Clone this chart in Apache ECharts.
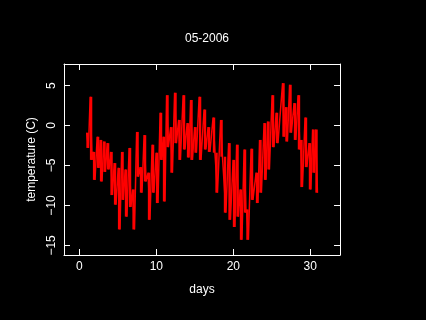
<!DOCTYPE html>
<html>
<head>
<meta charset="utf-8">
<script src="https://cdn.jsdelivr.net/npm/echarts@6/dist/echarts.min.js"></script>
<style>
  html, body { margin: 0; padding: 0; background: #000; }
  #chart { width: 426px; height: 320px; }
</style>
</head>
<body>
<div id="chart"></div>
<script>
// each streak = one daily warm/cool swing
var days = [1.06, 1.52, 1.91, 2.43, 2.82, 3.27, 3.73, 4.18, 4.64, 5.16,
            5.61, 6.06, 6.58, 7.04, 7.56, 8.01, 8.53, 9.05, 9.57, 10.09,
            10.61, 11.0, 11.45, 11.97, 12.49, 13.01, 13.6, 14.12, 14.57, 15.09,
            15.68, 16.32, 16.84, 17.49, 17.82, 18.47, 18.92, 19.51, 20.09, 20.55,
            21.0, 21.52, 21.84, 22.43, 23.08, 23.53, 24.12, 24.57, 25.16, 25.68,
            26.52, 26.91, 27.43, 28.01, 28.53, 28.86, 29.44, 29.96, 30.42, 30.81];
var tempHigh = [-0.9, 3.6, -3.3, -1.4, -1.8, -2.0, -2.2, -3.3, -4.7, -5.3,
                -3.3, -5.5, -2.8, -8.0, -0.8, -5.2, -1.2, -5.9, -2.4, -3.4,
                1.6, -1.4, 3.8, -0.2, 4.1, 0.7, 3.8, 0.3, 3.2, -0.2,
                3.6, 2.0, -0.2, 1.0, -3.4, 0.7, -3.9, -2.2, -4.3, -2.4,
                -8.0, -3.0, -10.5, -2.9, -5.9, -1.8, 0.3, 0.5, 3.8, 1.6,
                5.3, 2.3, 5.1, 2.8, 3.8, -1.8, 1.0, -2.2, -0.5, -0.5];
var tempLow = [-2.8, -4.3, -6.8, -5.3, -7.0, -5.8, -5.5, -8.7, -9.9, -13.0,
               -9.3, -11.4, -10.2, -13.0, -6.4, -8.4, -7.0, -11.8, -8.4, -9.7,
               -4.3, -9.5, -2.7, -5.9, -2.2, -4.3, -3.0, -4.0, -4.3, -3.4,
               -4.3, -3.0, -3.3, -3.4, -8.4, -3.9, -10.9, -11.8, -12.7, -11.4,
               -14.3, -10.9, -14.3, -9.3, -9.7, -8.4, -6.8, -5.5, -2.7, -2.2,
               -1.4, -2.0, -0.9, -1.8, -3.0, -7.7, -5.2, -8.0, -5.9, -8.4];
var xTicks = [0, 10, 20, 30];
var yTicks = [-15, -10, -5, 0, 5];

var rows = [];
var trace = [];
for (var i = 0; i < days.length; i++) {
  rows.push([days[i], tempHigh[i], tempLow[i]]);
  // warm peak then the cool trough of the same swing
  trace.push([days[i] - 0.12, tempHigh[i]]);
  trace.push([days[i] + 0.12, tempLow[i]]);
}

var font = { color: '#fff', fontFamily: 'Liberation Sans', fontSize: 12 };
var line = { show: true, onZero: false, lineStyle: { color: '#fff', width: 1 } };
var tick = function (vals) {
  return { show: true, inside: true, length: 6, customValues: vals, lineStyle: { color: '#fff', width: 1 } };
};
var minus = function (v) { return String(v).replace('-', '\u2212'); };

var myChart = echarts.init(document.getElementById('chart'));
myChart.setOption({
  backgroundColor: '#000',
  animation: false,
  title: {
    text: '05-2006', left: 202, top: 28, textAlign: 'center',
    textStyle: { color: '#fff', fontFamily: 'Liberation Sans', fontSize: 12, fontWeight: 'normal' }
  },
  grid: { left: 64, right: 86, top: 64, bottom: 65 },
  xAxis: [{
    type: 'value', min: -2, max: 33.86, position: 'bottom',
    name: 'days', nameLocation: 'middle', nameGap: 29, nameTextStyle: font,
    axisLine: line, axisTick: tick(xTicks), splitLine: { show: false },
    axisLabel: Object.assign({ margin: 6, customValues: xTicks }, font)
  }, {
    type: 'value', min: -2, max: 33.86, position: 'top',
    axisLine: line, axisTick: tick(xTicks), splitLine: { show: false },
    axisLabel: { show: false }
  }],
  yAxis: [{
    type: 'value', min: -16.2, max: 7.7, position: 'left',
    name: 'temperature (C)', nameLocation: 'middle', nameGap: 25, nameRotate: 90, nameTextStyle: font,
    axisLine: line, axisTick: tick(yTicks), splitLine: { show: false },
    axisLabel: Object.assign({ margin: 6, rotate: 90, customValues: yTicks, formatter: minus }, font)
  }, {
    type: 'value', min: -16.2, max: 7.7, position: 'right',
    axisLine: line, axisTick: tick(yTicks), splitLine: { show: false },
    axisLabel: { show: false }
  }],
  series: [{
    type: 'custom',
    data: rows,
    encode: { x: 0, y: [1, 2] },
    renderItem: function (params, api) {
      var top = api.coord([api.value(0), api.value(1)]);
      var bot = api.coord([api.value(0), api.value(2)]);
      return {
        type: 'rect',
        shape: { x: top[0] - 1.2, y: top[1], width: 2.4, height: bot[1] - top[1] },
        style: { fill: '#ff0000' }
      };
    }
  }, {
    type: 'line',
    data: trace,
    symbol: 'none',
    lineStyle: { color: '#ff0000', width: 1.5 }
  }]
});
</script>
</body>
</html>
